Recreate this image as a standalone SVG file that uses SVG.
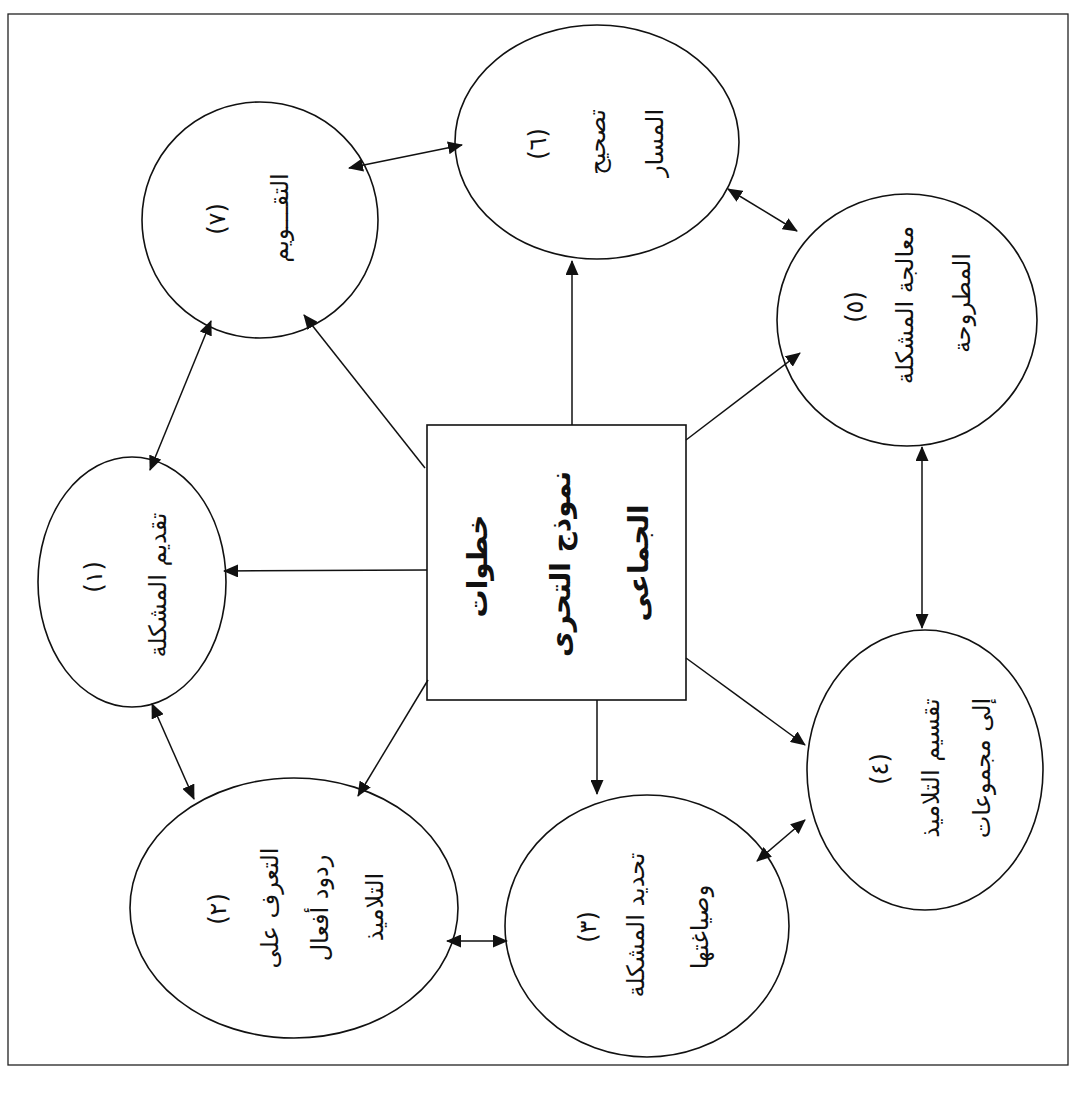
<svg xmlns="http://www.w3.org/2000/svg" width="1078" height="1096" viewBox="0 0 1078 1096">
<defs>
<marker id="ah" viewBox="0 0 15 13" refX="14" refY="6.5" markerWidth="15" markerHeight="13" markerUnits="userSpaceOnUse" orient="auto-start-reverse">
<path d="M0,0 L15,6.5 L0,13 z" fill="#111"/>
</marker>
<style>
.node{fill:#fff;stroke:#111;stroke-width:1.6}
.t{font-family:"DejaVu Sans","Noto Sans",sans-serif;font-size:24px;fill:#111;text-anchor:middle;dominant-baseline:central}
.tb{font-family:"DejaVu Sans","Noto Sans",sans-serif;font-size:28px;font-weight:bold;fill:#111;text-anchor:middle;dominant-baseline:central}
.c{stroke:#111;stroke-width:1.5;fill:none;marker-end:url(#ah)}
.d{stroke:#111;stroke-width:1.5;fill:none;marker-end:url(#ah);marker-start:url(#ah)}
</style>
</defs>
<rect x="0" y="0" width="1078" height="1096" fill="#fff"/>
<rect x="8" y="14" width="1060" height="1051" fill="none" stroke="#222" stroke-width="1.3"/>

<g id="center">
<rect x="427" y="425" width="259" height="275" fill="#fff" stroke="#111" stroke-width="1.6"/>
<text class="tb" transform="rotate(-90 477 566)" x="477" y="566">خطوات</text>
<text class="tb" transform="rotate(-90 560 564)" x="560" y="564">نموذج التحرى</text>
<text class="tb" transform="rotate(-90 638 563)" x="638" y="563">الجماعى</text>
</g>

<g id="node1">
<ellipse class="node" cx="132" cy="582" rx="94" ry="125"/>
<text class="t" transform="rotate(-90 94 577)" x="94" y="577">(١)</text>
<text class="t" transform="rotate(-90 158 585)" x="158" y="585">تقديم المشكلة</text>
</g>

<g id="node2">
<ellipse class="node" cx="294" cy="908" rx="164" ry="130"/>
<text class="t" transform="rotate(-90 218 909)" x="218" y="909">(٢)</text>
<text class="t" transform="rotate(-90 270 908)" x="270" y="908">التعرف على</text>
<text class="t" transform="rotate(-90 320 908)" x="320" y="908">ردود أفعال</text>
<text class="t" transform="rotate(-90 375 907)" x="375" y="907">التلاميذ</text>
</g>

<g id="node3">
<ellipse class="node" cx="647" cy="926" rx="142" ry="131"/>
<text class="t" transform="rotate(-90 588 927)" x="588" y="927">(٣)</text>
<text class="t" transform="rotate(-90 636 925)" x="636" y="925">تحديد المشكلة</text>
<text class="t" transform="rotate(-90 700 927)" x="700" y="927">وصياغتها</text>
</g>

<g id="node4">
<ellipse class="node" cx="925" cy="770" rx="118" ry="140"/>
<text class="t" transform="rotate(-90 880 769)" x="880" y="769">(٤)</text>
<text class="t" transform="rotate(-90 931 768)" x="931" y="768">تقسيم التلاميذ</text>
<text class="t" transform="rotate(-90 982 768)" x="982" y="768">إلى مجموعات</text>
</g>

<g id="node5">
<ellipse class="node" cx="907" cy="320" rx="130" ry="126"/>
<text class="t" transform="rotate(-90 855 307)" x="855" y="307">(٥)</text>
<text class="t" transform="rotate(-90 905 305)" x="905" y="305">معالجة المشكلة</text>
<text class="t" transform="rotate(-90 962 303)" x="962" y="303">المطروحة</text>
</g>

<g id="node6">
<ellipse class="node" cx="597" cy="142" rx="142" ry="117"/>
<text class="t" transform="rotate(-90 538 144)" x="538" y="144">(٦)</text>
<text class="t" transform="rotate(-90 597 142)" x="597" y="142">تصحيح</text>
<text class="t" transform="rotate(-90 655 143)" x="655" y="143">المسار</text>
</g>

<g id="node7">
<ellipse class="node" cx="260" cy="220" rx="118" ry="118"/>
<text class="t" transform="rotate(-90 217 219)" x="217" y="219">(٧)</text>
<text class="t" transform="rotate(-90 280 218)" x="280" y="218">التقـــويم</text>
</g>

<g id="connectors">
<line class="c" x1="427" y1="570" x2="224" y2="571"/>
<line class="c" x1="425" y1="468" x2="304" y2="315"/>
<line class="c" x1="572" y1="425" x2="572" y2="261"/>
<line class="c" x1="686" y1="440" x2="800" y2="353"/>
<line class="c" x1="686" y1="658" x2="805" y2="745"/>
<line class="c" x1="597" y1="700" x2="597" y2="794"/>
<line class="c" x1="428" y1="680" x2="358" y2="796"/>
<line class="d" x1="150" y1="470" x2="211" y2="321"/>
<line class="d" x1="349" y1="168" x2="462" y2="145"/>
<line class="d" x1="728" y1="189" x2="797" y2="231"/>
<line class="d" x1="922" y1="447" x2="922" y2="628"/>
<line class="d" x1="757" y1="861" x2="805" y2="820"/>
<line class="d" x1="447" y1="941" x2="507" y2="941"/>
<line class="d" x1="152" y1="704" x2="194" y2="799"/>
</g>
</svg>
